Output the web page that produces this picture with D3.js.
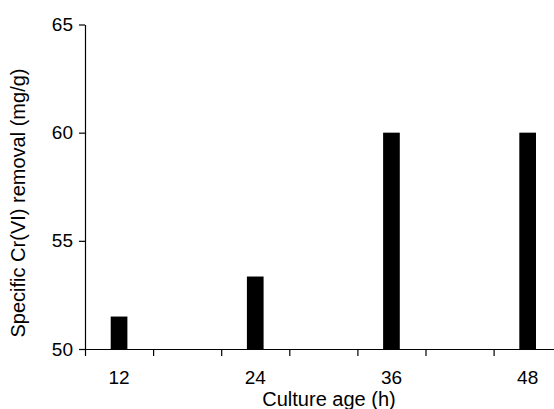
<!DOCTYPE html>
<html>
<head>
<meta charset="utf-8">
<script src="https://cdn.jsdelivr.net/npm/d3@7"></script>
<style>
  html, body { margin: 0; padding: 0; background: #fff; }
  svg { display: block; font-family: "Liberation Sans", Arial, sans-serif; }
  .axis path, .axis line { stroke: #000; stroke-width: 1.2; }
  .axis text { fill: #000; font-size: 19px; font-family: "Liberation Sans", Arial, sans-serif; }
</style>
</head>
<body>
<svg id="chart" width="554" height="409"></svg>
<script>
// culture age slots on the category axis (h), only every other one is labelled
var ageSlots = [12, 18, 24, 30, 36, 42, 48, 54];
var ageLabels = [12, 24, 36, 48];
// specific Cr(VI) removal (mg/g)
var cultureAge = [12, 24, 36, 48];
var removal = [51.5, 53.35, 60, 60];
var yTicks = [50, 55, 60, 65];

var svg = d3.select("#chart");
var plotLeft = 85, plotBottom = 349, plotTop = 24.5, step = 68.1;

var data = cultureAge.map(function (a, i) { return { age: a, value: removal[i] }; });

// band scale for the bars
var x = d3.scaleBand()
  .domain(ageSlots)
  .range([plotLeft, plotLeft + step * ageSlots.length])
  .padding(0);

// linear index scale for the boundary tick marks
var xEdge = d3.scaleLinear()
  .domain([0, ageSlots.length])
  .range([plotLeft, plotLeft + step * ageSlots.length]);

var y = d3.scaleLinear()
  .domain([50, 65])
  .range([plotBottom, plotTop]);

// bars
var barW = x.bandwidth() * 0.245;
svg.selectAll(".bar")
  .data(data)
  .enter().append("rect")
  .attr("class", "bar")
  .attr("x", function (d) { return x(d.age) + (x.bandwidth() - barW) / 2; })
  .attr("y", function (d) { return y(d.value); })
  .attr("width", barW)
  .attr("height", function (d) { return plotBottom - y(d.value); })
  .attr("fill", "#000");

// x axis: tick marks at category boundaries
svg.append("g")
  .attr("class", "axis")
  .attr("transform", "translate(0," + plotBottom + ")")
  .call(d3.axisBottom(xEdge).tickValues(d3.range(ageSlots.length + 1)).tickSize(7).tickSizeOuter(0).tickFormat(""));

// x axis labels at category centres
var xLab = svg.append("g")
  .attr("class", "axis")
  .attr("transform", "translate(0," + plotBottom + ")")
  .call(d3.axisBottom(x).tickValues(ageLabels).tickSize(0).tickPadding(22));
xLab.select(".domain").remove();

// y axis
svg.append("g")
  .attr("class", "axis")
  .attr("transform", "translate(" + plotLeft + ",0)")
  .call(d3.axisLeft(y).tickValues(yTicks).tickSize(6).tickSizeOuter(0).tickPadding(6));

// axis titles
svg.append("text")
  .attr("x", 329)
  .attr("y", 406)
  .attr("text-anchor", "middle")
  .style("font-size", "20px")
  .text("Culture age (h)");

svg.append("text")
  .attr("transform", "translate(25,203) rotate(-90)")
  .attr("text-anchor", "middle")
  .style("font-size", "20px")
  .text("Specific Cr(VI) removal (mg/g)");
</script>
</body>
</html>
